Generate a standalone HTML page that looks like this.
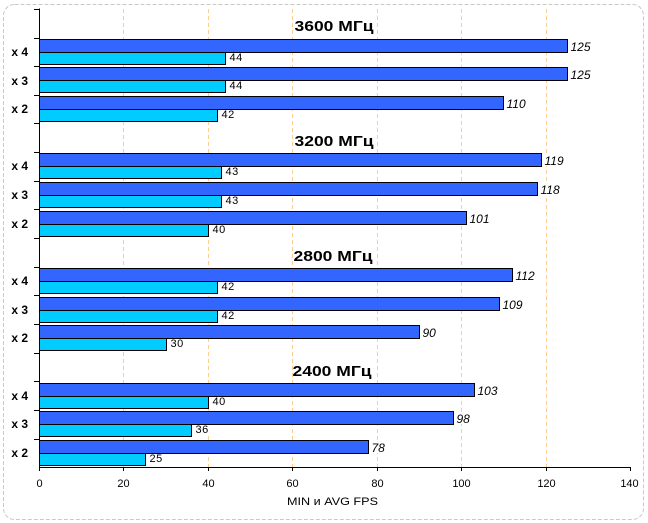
<!DOCTYPE html>
<html><head><meta charset="utf-8"><style>
html,body{margin:0;padding:0;background:#fff;}
svg{display:block;}
text{font-family:"Liberation Sans","DejaVu Sans",sans-serif;}
.t{font-weight:bold;font-size:15px;text-anchor:middle;}
.c{font-weight:bold;font-size:12px;text-anchor:end;}
.a{font-size:12px;font-style:italic;}
.m{font-size:11px;letter-spacing:0.5px;}
.x{font-size:11px;text-anchor:middle;}
</style></head><body>
<svg width="648" height="523" viewBox="0 0 648 523" xmlns="http://www.w3.org/2000/svg">
<rect x="0" y="0" width="648" height="523" fill="#fff"/>
<rect x="3.5" y="4.5" width="640" height="515" rx="11" ry="11" fill="none" stroke="#c8c8c8" stroke-width="1" stroke-dasharray="4 2"/>
<!-- gridlines -->
<g stroke="#ffcc90" stroke-width="1" stroke-dasharray="4 3">
<line x1="123.5" y1="9" x2="123.5" y2="467"/>
<line x1="208.5" y1="9" x2="208.5" y2="467"/>
<line x1="292.5" y1="9" x2="292.5" y2="467"/>
<line x1="377.5" y1="9" x2="377.5" y2="467"/>
<line x1="461.5" y1="9" x2="461.5" y2="467"/>
<line x1="546.5" y1="9" x2="546.5" y2="467"/>
</g>
<!-- titles -->
<text class="t" x="334" y="31" textLength="79" lengthAdjust="spacingAndGlyphs">3600 МГц</text>
<text class="t" x="334" y="146" textLength="79" lengthAdjust="spacingAndGlyphs">3200 МГц</text>
<text class="t" x="333" y="261" textLength="79" lengthAdjust="spacingAndGlyphs">2800 МГц</text>
<text class="t" x="332" y="376" textLength="79" lengthAdjust="spacingAndGlyphs">2400 МГц</text>
<!-- bars -->
<g stroke="#000" stroke-width="1">
<!-- 3600 -->
<rect x="39.5" y="39.5" width="528" height="13" fill="#3366ff"/>
<rect x="39.5" y="52.5" width="186" height="12" fill="#00ccff"/>
<rect x="39.5" y="67.5" width="528" height="13" fill="#3366ff"/>
<rect x="39.5" y="80.5" width="186" height="12" fill="#00ccff"/>
<rect x="39.5" y="96.5" width="464" height="13" fill="#3366ff"/>
<rect x="39.5" y="109.5" width="178" height="12" fill="#00ccff"/>
<!-- 3200 -->
<rect x="39.5" y="153.5" width="502" height="13" fill="#3366ff"/>
<rect x="39.5" y="166.5" width="182" height="12" fill="#00ccff"/>
<rect x="39.5" y="182.5" width="498" height="13" fill="#3366ff"/>
<rect x="39.5" y="195.5" width="182" height="12" fill="#00ccff"/>
<rect x="39.5" y="211.5" width="427" height="13" fill="#3366ff"/>
<rect x="39.5" y="224.5" width="169" height="12" fill="#00ccff"/>
<!-- 2800 -->
<rect x="39.5" y="268.5" width="473" height="13" fill="#3366ff"/>
<rect x="39.5" y="281.5" width="178" height="12" fill="#00ccff"/>
<rect x="39.5" y="297.5" width="460" height="13" fill="#3366ff"/>
<rect x="39.5" y="310.5" width="178" height="12" fill="#00ccff"/>
<rect x="39.5" y="325.5" width="380" height="13" fill="#3366ff"/>
<rect x="39.5" y="338.5" width="127" height="12" fill="#00ccff"/>
<!-- 2400 -->
<rect x="39.5" y="383.5" width="435" height="13" fill="#3366ff"/>
<rect x="39.5" y="396.5" width="169" height="12" fill="#00ccff"/>
<rect x="39.5" y="411.5" width="414" height="13" fill="#3366ff"/>
<rect x="39.5" y="424.5" width="152" height="12" fill="#00ccff"/>
<rect x="39.5" y="440.5" width="329" height="13" fill="#3366ff"/>
<rect x="39.5" y="453.5" width="106" height="12" fill="#00ccff"/>
</g>
<!-- label backgrounds -->
<g fill="#fff">
<rect x="569" y="40" width="25" height="12"/><rect x="227" y="53" width="19" height="11"/>
<rect x="569" y="68" width="25" height="12"/><rect x="227" y="81" width="19" height="11"/>
<rect x="505" y="97" width="25" height="12"/><rect x="219" y="110" width="19" height="11"/>
<rect x="543" y="154" width="25" height="12"/><rect x="223" y="167" width="19" height="11"/>
<rect x="539" y="183" width="25" height="12"/><rect x="223" y="196" width="19" height="11"/>
<rect x="468" y="212" width="25" height="12"/><rect x="210" y="225" width="19" height="11"/>
<rect x="514" y="269" width="25" height="12"/><rect x="219" y="282" width="19" height="11"/>
<rect x="501" y="298" width="25" height="12"/><rect x="219" y="311" width="19" height="11"/>
<rect x="421" y="326" width="19" height="12"/><rect x="168" y="339" width="19" height="11"/>
<rect x="476" y="384" width="25" height="12"/><rect x="210" y="397" width="19" height="11"/>
<rect x="455" y="412" width="19" height="12"/><rect x="193" y="425" width="19" height="11"/>
<rect x="370" y="441" width="19" height="12"/><rect x="147" y="454" width="19" height="11"/>
</g>
<!-- value labels -->
<g fill="#000">
<text class="a" x="570.5" y="51">125</text><text class="m" x="229.5" y="61">44</text>
<text class="a" x="570.5" y="79">125</text><text class="m" x="229.5" y="89">44</text>
<text class="a" x="506.5" y="108">110</text><text class="m" x="221.5" y="118">42</text>
<text class="a" x="544.5" y="165">119</text><text class="m" x="225.5" y="175">43</text>
<text class="a" x="540.5" y="194">118</text><text class="m" x="225.5" y="204">43</text>
<text class="a" x="469.5" y="223">101</text><text class="m" x="212.5" y="233">40</text>
<text class="a" x="515.5" y="280">112</text><text class="m" x="221.5" y="290">42</text>
<text class="a" x="502.5" y="309">109</text><text class="m" x="221.5" y="319">42</text>
<text class="a" x="422.5" y="337">90</text><text class="m" x="170.5" y="347">30</text>
<text class="a" x="477.5" y="395">103</text><text class="m" x="212.5" y="405">40</text>
<text class="a" x="456.5" y="423">98</text><text class="m" x="195.5" y="433">36</text>
<text class="a" x="371.5" y="452">78</text><text class="m" x="149.5" y="462">25</text>
</g>
<!-- category labels -->
<g fill="#000">
<text class="c" x="28" y="56">x 4</text>
<text class="c" x="28" y="85">x 3</text>
<text class="c" x="28" y="113">x 2</text>
<text class="c" x="28" y="170">x 4</text>
<text class="c" x="28" y="199">x 3</text>
<text class="c" x="28" y="228">x 2</text>
<text class="c" x="28" y="285">x 4</text>
<text class="c" x="28" y="314">x 3</text>
<text class="c" x="28" y="342">x 2</text>
<text class="c" x="28" y="400">x 4</text>
<text class="c" x="28" y="428">x 3</text>
<text class="c" x="28" y="457">x 2</text>
</g>
<!-- axes -->
<g stroke="#000" stroke-width="1" fill="none">
<line x1="39.5" y1="8.5" x2="39.5" y2="468"/>
<line x1="39" y1="467.5" x2="631" y2="467.5"/>
<path d="M34 9.5H39 M34 38.5H39 M34 66.5H39 M34 95.5H39 M34 123.5H39 M34 152.5H39 M34 181.5H39 M34 209.5H39 M34 238.5H39 M34 267.5H39 M34 295.5H39 M34 324.5H39 M34 353.5H39 M34 381.5H39 M34 410.5H39 M34 439.5H39"/>
<path d="M39.5 468V471 M123.5 468V471 M208.5 468V471 M292.5 468V471 M377.5 468V471 M461.5 468V471 M546.5 468V471 M630.5 468V471"/>
</g>
<g fill="#000">
<text class="x" x="39.5" y="487">0</text>
<text class="x" x="123.5" y="487">20</text>
<text class="x" x="208.5" y="487">40</text>
<text class="x" x="292.5" y="487">60</text>
<text class="x" x="377.5" y="487">80</text>
<text class="x" x="461.5" y="487">100</text>
<text class="x" x="546.5" y="487">120</text>
<text class="x" x="629.5" y="487">140</text>
<text x="287" y="505" font-size="11" textLength="91" lengthAdjust="spacingAndGlyphs">MIN и AVG FPS</text>
</g>
</svg>
</body></html>
